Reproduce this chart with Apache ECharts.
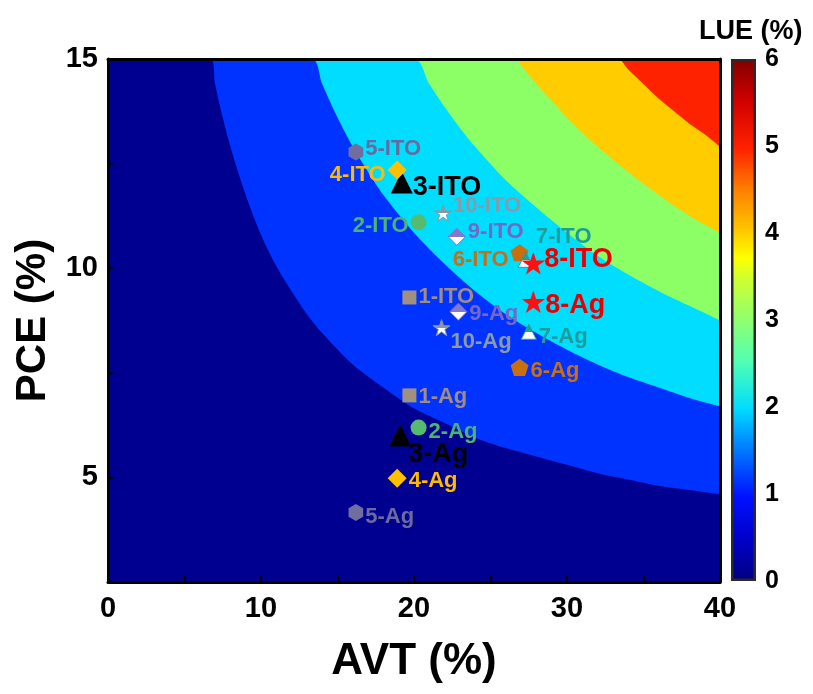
<!DOCTYPE html>
<html>
<head>
<meta charset="utf-8">
<script src="https://cdn.jsdelivr.net/npm/echarts@6/dist/echarts.min.js"></script>
<style>html,body{margin:0;padding:0;background:#fff;}#chart{width:813px;height:694px;}</style>
</head>
<body>
<div id="chart"></div>
<script>
// ---------- data ----------
const sampleNames = ['1-ITO','2-ITO','3-ITO','4-ITO','5-ITO','6-ITO','7-ITO','8-ITO','9-ITO','10-ITO',
                     '1-Ag','2-Ag','3-Ag','4-Ag','5-Ag','6-Ag','7-Ag','8-Ag','9-Ag','10-Ag'];
const avtValues = [19.7, 20.3, 19.2, 18.9, 16.2, 26.9, 27.3, 27.8, 22.8, 21.9,
                   19.7, 20.3, 19.1, 18.9, 16.2, 26.9, 27.5, 27.8, 22.9, 21.8];
const pceValues = [9.3, 11.1, 12.05, 12.35, 12.78, 10.37, 10.2, 10.12, 10.75, 11.32,
                   6.96, 6.19, 6.0, 4.98, 4.16, 7.63, 8.48, 9.2, 8.96, 8.58];

// LUE contour boundaries (AVT, PCE)
const lue1Boundary = [[0,15],[6.7,15],[7,14.4],[7.5,13.6],[8,12.9],[9,11.75],[10,10.8],[11,10.05],[12,9.45],[13,8.9],[14,8.45],[16,7.7],[18,7.15],[20,6.65],[22,6.3],[24,5.95],[26,5.7],[28,5.5],[30,5.3],[32,5.1],[34,4.95],[36,4.8],[38,4.7],[40,4.6]];
const lue2Boundary = [[0,15],[13.3,15],[14,14.4],[15,13.6],[16,12.9],[17,12.3],[18,11.75],[20,10.85],[22,10.1],[24,9.45],[26,8.9],[28,8.45],[30,8.05],[32,7.7],[34,7.4],[36,7.15],[38,6.9],[40,6.7]];
const lue3Boundary = [[0,15],[20,15],[21,14.4],[22,13.85],[23,13.35],[24,12.9],[26,12.1],[28,11.45],[30,10.85],[32,10.3],[34,9.85],[36,9.45],[38,9.1],[40,8.75]];
const lue4Boundary = [[0,15],[26.7,15],[27,14.85],[28,14.4],[29,14.0],[30,13.6],[32,12.9],[34,12.3],[36,11.75],[38,11.25],[40,10.85]];
const lue5Boundary = [[0,15],[33.3,15],[34,14.75],[35,14.4],[36,14.05],[37,13.75],[38,13.45],[39,13.2],[40,12.9]];

const xTicks = [0, 10, 20, 30, 40];
const yTicks = [5, 10, 15];
const lueTicks = [0, 1, 2, 3, 4, 5, 6];
const lueMax = 6;

// ---------- styles ----------
const FONT = '"Liberation Sans", Arial, sans-serif';
const bandColors = ['#000090', '#0033ff', '#00ddff', '#8cff66', '#ffcc00', '#ff2200'];

const STAR = 'path://M50 0 L61.23 34.55 L97.55 34.55 L68.17 55.9 L79.39 90.45 L50 69.1 L20.61 90.45 L31.83 55.9 L2.45 34.55 L38.77 34.55 Z';
const PENTA = 'path://M50 0 L97.55 34.55 L79.39 90.45 L20.61 90.45 L2.45 34.55 Z';
const HEXA = 'path://M50 0 L93.3 25 L93.3 75 L50 100 L6.7 75 L6.7 25 Z';

const deviceStyle = {
  '1':  {symbol: 'rect',     size: 14, color: '#a09080', text: '#a08c80', half: false},
  '2':  {symbol: 'circle',   size: 16, color: '#55bb6e', text: '#4cb46c', half: false},
  '3':  {symbol: 'triangle', size: 22, color: '#000000', text: '#000000', half: false},
  '4':  {symbol: 'diamond',  size: 19, color: '#ffc000', text: '#ffbb00', half: false},
  '5':  {symbol: HEXA,       size: 17, color: '#6e6ea0', text: '#6a6a9e', half: false},
  '6':  {symbol: PENTA,      size: 18, color: '#c8700f', text: '#c86e14', half: false},
  '7':  {symbol: 'triangle', size: 15, color: '#1f9e9a', text: '#1d9c9a', half: true},
  '8':  {symbol: STAR,       size: 24, color: '#ff1010', text: '#e80000', half: false},
  '9':  {symbol: 'diamond',  size: 17, color: '#8478c8', text: '#7766c4', half: true},
  '10': {symbol: STAR,       size: 17, color: '#8898a6', text: '#8a9aa6', half: true}
};
// label placement per sample: [position, dx, dy, fontSize]
const labelPlace = {
  '1-ITO': ['right', 0, -1, 22], '2-ITO': ['left', 0, 4, 22], '3-ITO': ['right', -2, 5, 27],
  '4-ITO': ['left', 0, 5, 22], '5-ITO': ['right', 0, -3, 22], '6-ITO': ['left', 0, 7, 22],
  '7-ITO': ['right', 0, -23, 22], '8-ITO': ['right', -3, -4, 27], '9-ITO': ['right', 0, -5, 22],
  '10-ITO': ['right', -1, -7, 22],
  '1-Ag': ['right', 0, 2, 22], '2-Ag': ['right', 0, 4, 22], '3-Ag': ['right', -5, 19, 27],
  '4-Ag': ['right', 0, 3, 22], '5-Ag': ['right', 0, 4, 22], '6-Ag': ['right', 0, 4, 22],
  '7-Ag': ['right', 0, 5, 22], '8-Ag': ['right', -2, 4, 27], '9-Ag': ['right', 0, 2, 22],
  '10-Ag': ['right', -2, 14, 22]
};

function halfFill(c) {
  return new echarts.graphic.LinearGradient(0, 0, 0, 1, [
    {offset: 0, color: c}, {offset: 0.5, color: c},
    {offset: 0.5, color: '#ffffff'}, {offset: 1, color: '#ffffff'}
  ]);
}

const scatterData = sampleNames.map(function (name, i) {
  const dev = name.split('-')[0];
  const st = deviceStyle[dev];
  const lp = labelPlace[name];
  return {
    name: name,
    value: [avtValues[i], pceValues[i]],
    symbol: st.symbol,
    symbolSize: st.size,
    symbolKeepAspect: true,
    itemStyle: st.half
      ? {color: halfFill(st.color), borderColor: st.color, borderWidth: 1, opacity: 1}
      : {color: st.color, opacity: 1},
    label: {
      show: true, formatter: name, position: lp[0], distance: 2,
      offset: [lp[1], lp[2]], color: st.text, fontSize: lp[3],
      fontWeight: 'bold', fontFamily: FONT, opacity: 1
    }
  };
});

function bandSeries(data, color) {
  return {
    type: 'line', xAxisIndex: 0, yAxisIndex: 0, data: data,
    smooth: 0.3, symbol: 'none', silent: true, clip: true,
    lineStyle: {width: 0, opacity: 0},
    areaStyle: {color: color, opacity: 1, origin: 'start'},
    z: 2
  };
}

const chart = echarts.init(document.getElementById('chart'), null, {renderer: 'canvas'});
const axisBold = {color: '#000', fontWeight: 'bold', fontFamily: FONT};

chart.setOption({
  animation: false,
  backgroundColor: '#ffffff',
  title: {
    text: 'LUE (%)', left: 694, top: 13,
    textStyle: {fontSize: 27, fontWeight: 'bold', color: '#000', fontFamily: FONT}
  },
  grid: [
    {left: 108, top: 59, width: 612, height: 523, show: true, backgroundColor: bandColors[5], borderWidth: 0},
    {left: 731, top: 59, width: 25, height: 522, show: false}
  ],
  xAxis: [
    {
      type: 'value', gridIndex: 0, position: 'bottom', min: xTicks[0], max: xTicks[xTicks.length - 1], interval: 5, z: 10,
      axisLine: {onZero: false, lineStyle: {color: '#000', width: 3}},
      axisTick: {inside: true, length: 6, lineStyle: {color: '#000', width: 2}},
      axisLabel: Object.assign({fontSize: 29, margin: 12,
        formatter: function (v) { return xTicks.indexOf(v) >= 0 ? String(v) : ''; }}, axisBold),
      splitLine: {show: false},
      name: 'AVT (%)', nameLocation: 'middle', nameGap: 58,
      nameTextStyle: Object.assign({fontSize: 44}, axisBold)
    },
    {
      type: 'value', gridIndex: 0, position: 'top', min: 0, max: 40, z: 10,
      axisLine: {onZero: false, lineStyle: {color: '#000', width: 3}},
      axisTick: {show: false}, axisLabel: {show: false}, splitLine: {show: false}
    },
    {
      type: 'category', gridIndex: 1, data: ['LUE'], show: false
    }
  ],
  yAxis: [
    {
      type: 'value', gridIndex: 0, position: 'left', min: 2.5, max: 15, interval: 2.5, z: 10,
      axisLine: {onZero: false, lineStyle: {color: '#000', width: 3}},
      axisTick: {inside: true, length: 6, lineStyle: {color: '#000', width: 2}},
      axisLabel: Object.assign({fontSize: 29, margin: 10,
        formatter: function (v) { return yTicks.indexOf(v) >= 0 ? String(v) : ''; }}, axisBold),
      splitLine: {show: false},
      name: 'PCE (%)', nameLocation: 'middle', nameGap: 52, nameRotate: 90,
      nameTextStyle: Object.assign({fontSize: 42}, axisBold)
    },
    {
      type: 'value', gridIndex: 0, position: 'right', min: 2.5, max: 15, z: 10,
      axisLine: {onZero: false, lineStyle: {color: '#000', width: 3}},
      axisTick: {show: false}, axisLabel: {show: false}, splitLine: {show: false}
    },
    {
      type: 'value', gridIndex: 1, position: 'right', min: lueTicks[0], max: lueTicks[lueTicks.length - 1], interval: 1, z: 10,
      axisLine: {show: false},
      axisTick: {inside: true, length: 5, lineStyle: {color: '#333', width: 2}},
      axisLabel: Object.assign({fontSize: 25, margin: 9}, axisBold),
      splitLine: {show: false}
    }
  ],
  series: [
    bandSeries(lue5Boundary, bandColors[4]),
    bandSeries(lue4Boundary, bandColors[3]),
    bandSeries(lue3Boundary, bandColors[2]),
    bandSeries(lue2Boundary, bandColors[1]),
    bandSeries(lue1Boundary, bandColors[0]),
    {
      type: 'scatter', xAxisIndex: 0, yAxisIndex: 0, data: scatterData, z: 5,
      itemStyle: {opacity: 1}
    },
    {
      type: 'bar', xAxisIndex: 2, yAxisIndex: 2, data: [lueMax], barWidth: '100%', silent: true,
      itemStyle: {
        borderColor: '#2a2a2a', borderWidth: 2.5,
        color: new echarts.graphic.LinearGradient(0, 1, 0, 0, [
          {offset: 0, color: '#000080'}, {offset: 0.08, color: '#0000c8'},
          {offset: 0.16, color: '#0010ff'}, {offset: 0.25, color: '#0078ff'},
          {offset: 0.33, color: '#00dcff'}, {offset: 0.42, color: '#50ffb4'},
          {offset: 0.5, color: '#90ff70'}, {offset: 0.58, color: '#d0ff30'},
          {offset: 0.62, color: '#ffff00'}, {offset: 0.67, color: '#ffc800'},
          {offset: 0.75, color: '#ff8000'}, {offset: 0.83, color: '#ff2000'},
          {offset: 0.92, color: '#d00000'}, {offset: 1, color: '#800000'}
        ])
      }
    }
  ]
});
</script>
</body>
</html>
